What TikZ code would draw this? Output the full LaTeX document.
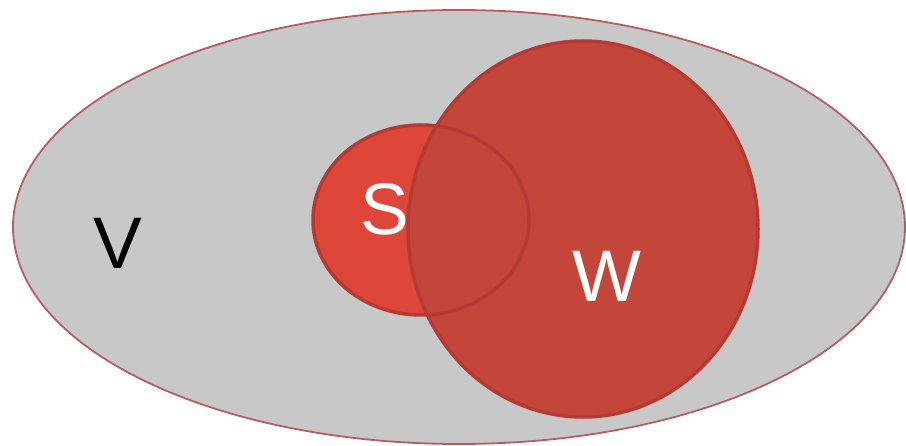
\documentclass[tikz,border=0pt]{standalone}
\usepackage{fontspec}
\setmainfont{Liberation Sans}
\definecolor{vgray}{RGB}{200,200,200}
\definecolor{vborder}{RGB}{180,95,95}
\definecolor{sfill}{RGB}{222,70,58}
\definecolor{wfill}{RGB}{196,70,58}
\definecolor{rborder}{RGB}{182,58,52}
\tikzset{lbl/.style={font=\fontsize{73}{73}\selectfont, inner sep=0pt}}
\begin{document}
\begin{tikzpicture}[x=1pt,y=1pt]
\useasboundingbox (0,0) rectangle (906,445);
\fill[white] (0,0) rectangle (906,445);
% outer set V
\draw[vborder, line width=1.8pt, fill=vgray] (459,218) ellipse [x radius=446, y radius=217];
% S fill, W fill
\fill[sfill] (421,225) ellipse [x radius=108, y radius=95];
\fill[wfill] (583,216) ellipse [x radius=175, y radius=188];
% borders
\draw[rborder, line width=3.5pt] (421,225) ellipse [x radius=108, y radius=95];
\draw[rborder, line width=3.5pt] (583,216) ellipse [x radius=175, y radius=188];
% labels
\node[lbl, text=black] (V) at (118,202) {V};
\node[lbl, text=white] (S) at (385,236) {S};
\node[lbl, text=white] (W) at (607,169) {W};
\end{tikzpicture}
\end{document}
